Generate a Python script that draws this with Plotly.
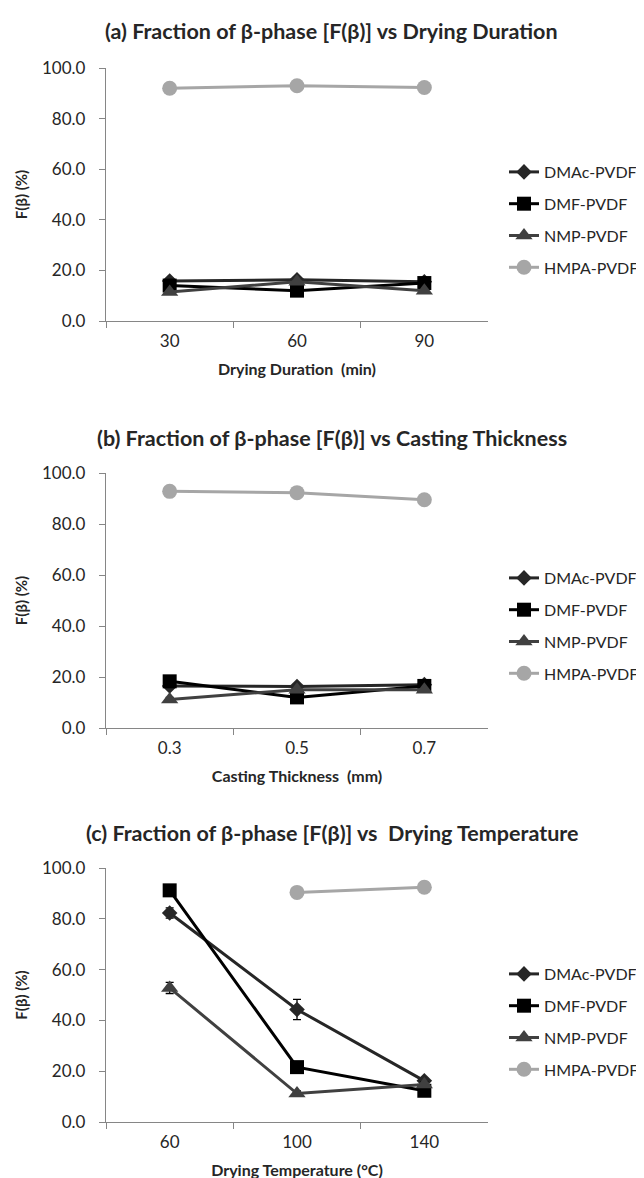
import plotly.graph_objects as go

# ---------------- data ----------------
series_names = ["DMAc-PVDF", "DMF-PVDF", "NMP-PVDF", "HMPA-PVDF"]

# (a) drying duration
dur_cats = ["30", "60", "90"]
dur_dmac = [15.8, 16.3, 15.5]
dur_dmf = [14.0, 12.0, 15.0]
dur_nmp = [11.5, 15.5, 12.0]
dur_hmpa = [92.0, 93.0, 92.3]
dur_err_dmac = [1.0, 1.0, 1.0]
dur_err_dmf = [0.8, 0.8, 0.8]
dur_err_nmp = [0.8, 0.8, 0.8]
dur_err_hmpa = [1.0, 0.8, 0.8]

# (b) casting thickness
thk_cats = ["0.3", "0.5", "0.7"]
thk_dmac = [16.5, 16.3, 17.0]
thk_dmf = [18.3, 12.0, 16.5]
thk_nmp = [11.2, 15.0, 15.0]
thk_hmpa = [92.8, 92.3, 89.5]
thk_err_dmac = [1.0, 1.0, 2.0]
thk_err_dmf = [1.0, 1.0, 1.0]
thk_err_nmp = [0.8, 0.8, 0.8]
thk_err_hmpa = [0.8, 1.5, 0.8]

# (c) drying temperature
tmp_cats = ["60", "100", "140"]
tmp_dmac = [82.3, 44.3, 16.2]
tmp_dmf = [91.2, 21.6, 12.3]
tmp_nmp = [52.8, 11.2, 14.8]
tmp_hmpa = [None, 90.4, 92.4]
tmp_err_dmac = [2.0, 4.0, 1.0]
tmp_err_dmf = [1.0, 1.0, 1.0]
tmp_err_nmp = [2.2, 1.0, 1.0]
tmp_err_hmpa = [0.0, 1.0, 2.0]

titles = [
    "(a) Fraction of β-phase [F(β)] vs Drying Duration",
    "(b) Fraction of β-phase [F(β)] vs Casting Thickness",
    "(c) Fraction of β-phase [F(β)] vs  Drying Temperature",
]
x_titles = ["Drying Duration  (min)", "Casting Thickness  (mm)", "Drying Temperature (°C)"]
y_title = "F(β) (%)"
y_ticks = [0, 20, 40, 60, 80, 100]

panels = [
    (dur_cats, [dur_dmac, dur_dmf, dur_nmp, dur_hmpa], [dur_err_dmac, dur_err_dmf, dur_err_nmp, dur_err_hmpa]),
    (thk_cats, [thk_dmac, thk_dmf, thk_nmp, thk_hmpa], [thk_err_dmac, thk_err_dmf, thk_err_nmp, thk_err_hmpa]),
    (tmp_cats, [tmp_dmac, tmp_dmf, tmp_nmp, tmp_hmpa], [tmp_err_dmac, tmp_err_dmf, tmp_err_nmp, tmp_err_hmpa]),
]

# ---------------- styles ----------------
FONT = "Lato, 'Open Sans', sans-serif"
W, H = 644, 1178
line_colors = ["#262626", "#000000", "#404040", "#A6A6A6"]
symbols = ["diamond", "square", "triangle-up", "circle"]
msizes = [12, 14, 15, 15]
axis_color = "#868686"

# plot area pixel boxes (top, bottom)
plot_left, plot_right = 98, 480
boxes = [(60, 313), (465, 720), (860, 1114)]
title_y = [23, 430, 825]
legend_center = [212, 618, 1014]

fig = go.Figure()
legend_keys = ["legend", "legend2", "legend3"]

for p, (cats, vals, errs) in enumerate(panels):
    xa = "x" if p == 0 else f"x{p+1}"
    ya = "y" if p == 0 else f"y{p+1}"
    for s in range(4):
        fig.add_trace(go.Scatter(
            x=cats, y=vals[s], name=series_names[s],
            xaxis=xa, yaxis=ya, mode="lines+markers",
            line=dict(color=line_colors[s], width=3),
            marker=dict(symbol=symbols[s], size=msizes[s], color=line_colors[s]),
            error_y=dict(type="data", array=errs[s], color="#000000", thickness=1.3, width=4),
            legend=legend_keys[p], legendgroup=f"{p}-{s}",
            connectgaps=False,
        ))

layout = dict(
    width=W, height=H,
    margin=dict(l=0, r=0, t=0, b=0),
    paper_bgcolor="white", plot_bgcolor="white",
    font=dict(family=FONT, color="#262626", size=16),
    showlegend=True,
)

annotations = []
for p in range(3):
    top, bot = boxes[p]
    xkey = "xaxis" if p == 0 else f"xaxis{p+1}"
    ykey = "yaxis" if p == 0 else f"yaxis{p+1}"
    xa_anchor = "y" if p == 0 else f"y{p+1}"
    ya_anchor = "x" if p == 0 else f"x{p+1}"
    layout[xkey] = dict(
        domain=[plot_left / W, plot_right / W], anchor=xa_anchor,
        type="category", range=[-0.5, 2.5],
        showline=True, linecolor=axis_color, linewidth=1.3,
        ticks="outside", tickson="boundaries", ticklen=6, tickcolor=axis_color,
        showgrid=False, zeroline=False,
        tickfont=dict(size=17, family=FONT, color="#262626"),
        ticklabelstandoff=4,
        title=dict(text=f"<b>{x_titles[p]}</b>", font=dict(size=16, family=FONT, color="#262626"), standoff=14),
        automargin=False, fixedrange=True,
    )
    layout[ykey] = dict(
        domain=[1 - bot / H, 1 - top / H], anchor=ya_anchor,
        range=[0, 100], tickvals=y_ticks, tickformat=".1f",
        showline=True, linecolor=axis_color, linewidth=1.3,
        ticks="outside", ticklen=6, tickcolor=axis_color,
        showgrid=False, zeroline=False,
        tickfont=dict(size=17, family=FONT, color="#262626"),
        ticklabelstandoff=10,
        title=dict(text=f"<b>{y_title}</b>", font=dict(size=15, family=FONT, color="#262626"), standoff=10),
        automargin=False, fixedrange=True,
    )
    layout[legend_keys[p]] = dict(
        x=496 / W, xanchor="left",
        y=1 - legend_center[p] / H, yanchor="middle",
        font=dict(size=16, family=FONT, color="#262626"),
        tracegroupgap=8, bgcolor="rgba(0,0,0,0)",
    )
    annotations.append(dict(
        text=f"<b>{titles[p]}</b>", x=324 / W, y=1 - title_y[p] / H,
        xref="paper", yref="paper", xanchor="center", yanchor="middle",
        showarrow=False, font=dict(size=21.5, family=FONT, color="#262626"),
    ))

layout["annotations"] = annotations
fig.update_layout(**layout)
fig.write_html("out.html")
